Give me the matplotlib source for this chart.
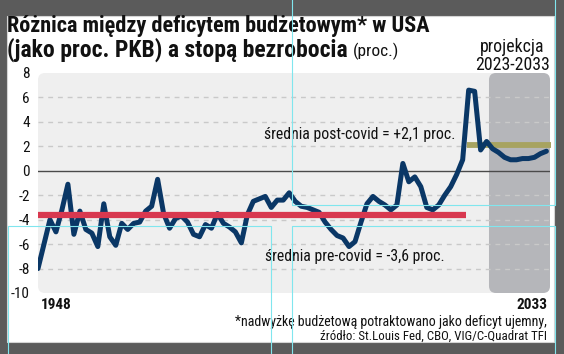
import matplotlib
matplotlib.use('Agg')
import matplotlib.pyplot as plt
from matplotlib.patches import FancyBboxPatch, Rectangle
from matplotlib.lines import Line2D
from matplotlib.transforms import IdentityTransform
from matplotlib import font_manager as fm

names = {f.name for f in fm.fontManager.ttflist}
FONT = next((c for c in ['Roboto Condensed', 'Open Sans Condensed', 'Liberation Sans Narrow', 'Roboto']
             if c in names), 'DejaVu Sans')
plt.rcParams['font.family'] = [FONT, 'DejaVu Sans']

# ---------------- data ----------------
years = list(range(1948, 2034))
values = [
    -8.0, -6.0, -4.0, -5.0, -3.2, -1.1, -5.2, -3.3, -4.8, -5.1,   # 1948-1957
    -6.2, -2.7, -5.4, -6.1, -4.3, -4.8, -4.3, -4.2, -3.3, -2.9,   # 1958-1967
    -0.7, -3.5, -4.7, -3.9, -3.7, -4.2, -5.2, -5.4, -4.4, -4.7,   # 1968-1977
    -3.5, -4.3, -4.6, -5.0, -5.9, -3.6, -2.5, -2.3, -2.1, -3.0,   # 1978-1987
    -2.4, -2.4, -1.8, -2.5, -2.9, -3.0, -3.2, -3.4, -4.2, -4.8,   # 1988-1997
    -5.3, -5.5, -6.2, -5.8, -4.2, -2.7, -2.1, -2.5, -2.8, -3.2,   # 1998-2007
    -2.8, 0.6, -0.9, -0.5, -1.3, -3.0, -3.2, -2.8, -2.0, -1.3,    # 2008-2017
    -0.3, 0.9, 6.6, 6.5, 1.7, 2.4, 1.8, 1.5, 1.1, 0.9,            # 2018-2027
    0.9, 1.0, 1.0, 1.1, 1.4, 1.6,                                 # 2028-2033
]
pre_covid_mean = -3.6
pre_covid_span = [1948, 2019.6]
post_covid_mean = 2.1
post_covid_span = [2019.7, 2033.7]
projection_start = 2023.4
yticks = [8, 6, 4, 2, 0, -2, -4, -6, -8, -10]
ytick_labels = ['8', '6', '4', '2', '0', '-2', '-4', '-6', '-8', '-10']
grid_levels = [6, 4, 2, -2, -4, -6, -8]
xlabel_years = [1948, 2033]

title_1 = 'Różnica między deficytem budżetowym* w USA'
title_2 = '(jako proc. PKB) a stopą bezrobocia'
title_unit = '(proc.)'
proj_label_1 = 'projekcja'
proj_label_2 = '2023-2033'
post_label = 'średnia post-covid = +2,1 proc.'
pre_label = 'średnia pre-covid = -3,6 proc.'
foot_1 = '*nadwyżkę budżetową potraktowano jako deficyt ujemny,'
foot_2 = 'źródło: St.Louis Fed, CBO, VIG/C-Quadrat TFI'

NAVY = '#0a3766'
RED = '#d8384f'
OLIVE = '#a7a360'
TXT = '#111111'

# ---------------- figure ----------------
W, H = 564, 354
fig = plt.figure(figsize=(W / 100, H / 100), dpi=100)
fig.patch.set_facecolor('#5b5b5b')
ID = IdentityTransform()

fig.add_artist(Rectangle((6.5, H - 341.5), 547, 326, transform=ID,
                         facecolor='white', edgecolor='#d4d4d4', lw=0.8, zorder=-3))

AX_L, AX_R, AX_T, AX_B = 38, 550, 73, 293
ax = fig.add_axes([AX_L / W, 1 - AX_B / H, (AX_R - AX_L) / W, (AX_B - AX_T) / H])
ax.set_xlim(1948, 2033.6)
ax.set_ylim(-10, 8)
ax.patch.set_visible(False)
for s in ax.spines.values():
    s.set_visible(False)

# background box and projection shade (rounded)
fig.add_artist(FancyBboxPatch((AX_L, H - AX_B), AX_R - AX_L, AX_B - AX_T,
                              boxstyle='round,pad=0,rounding_size=7', transform=ID,
                              facecolor='#efefef', edgecolor='none', zorder=-2))
px0 = ax.transData.transform((projection_start, 0))[0]
fig.add_artist(FancyBboxPatch((px0, H - AX_B), AX_R - px0, AX_B - AX_T,
                              boxstyle='round,pad=0,rounding_size=7', transform=ID,
                              facecolor='#b5b6ba', edgecolor='none', zorder=-1))

for g in grid_levels:
    ax.axhline(g, color='#c9c9c9', lw=1.0, dashes=(3.5, 3.5), zorder=1)
ax.axhline(0, color='#4a4a4a', lw=1.0, zorder=1.2)

ax.plot(post_covid_span, [post_covid_mean] * 2, color=OLIVE, lw=4.2,
        solid_capstyle='butt', zorder=2, clip_on=False)
ax.plot(years, values, color=NAVY, lw=3.6, solid_joinstyle='round',
        solid_capstyle='round', zorder=3)
ax.plot(pre_covid_span, [pre_covid_mean] * 2, color=RED, lw=4.5,
        solid_capstyle='butt', zorder=4)

ax.set_yticks(yticks)
ax.set_yticklabels(ytick_labels)
ax.tick_params(axis='y', length=0, pad=6, labelsize=11, labelcolor=TXT)
ax.set_xticks([])

for yr, ha, dx in zip(xlabel_years, ['left', 'right'], [3, 1]):
    ax.annotate(str(yr), xy=(yr, 0), xycoords=('data', 'axes fraction'),
                xytext=(dx, -5), textcoords='offset pixels', ha=ha, va='top',
                fontsize=11, fontweight='bold', color=TXT)

ax.text(2001.7, 2.95, post_label, ha='center', va='center', fontsize=11.3, color=TXT, zorder=5)
ax.text(2000.9, -7.0, pre_label, ha='center', va='center', fontsize=11.3, color=TXT, zorder=5)

# ---------------- titles (pixel positions, top-down baselines) ----------------
def ptext(x, y_top, s, **kw):
    return fig.text(x, H - y_top, s, transform=ID, color=TXT, va='baseline', **kw)

t1 = ptext(7, 34, title_1, fontsize=16, fontweight='bold', ha='left')
t2 = ptext(7, 54.5, title_2, fontsize=17, fontweight='bold', ha='left')
renderer = fig.canvas.get_renderer()
bb = t2.get_window_extent(renderer)
t3 = ptext(bb.x1 + 5, 54.5, title_unit, fontsize=12.5, ha='left')
p1 = ptext(512, 53, proj_label_1, fontsize=12.8, ha='center')
p2 = ptext(513, 69, proj_label_2, fontsize=12.8, ha='center')
f1 = ptext(547, 327, foot_1, fontsize=10, ha='right')
f2 = ptext(547, 339, foot_2, fontsize=9.3, ha='right')


def separate(upper, lower, others=()):
    """Nudge two stacked text lines apart just enough that their boxes do not touch."""
    bu = upper.get_window_extent(renderer)
    bl = lower.get_window_extent(renderer)
    ov = bl.y1 - bu.y0 + 0.6
    if ov > 0:
        xu, yu = upper.get_position()
        upper.set_position((xu, yu + ov / 2))
        for t in [lower, *others]:
            x, y = t.get_position()
            t.set_position((x, y - ov / 2))


separate(t1, t2, others=(t3,))
separate(p1, p2)
separate(f1, f2)

# ---------------- layout guide lines (cyan) ----------------
CY = '#80e6ee'
guides = [
    [(291.5, 0), (291.5, 204.5), (554.5, 204.5), (554.5, 0)],
    [(7.5, 354), (7.5, 225.5), (270.5, 225.5), (270.5, 354)],
    [(291.5, 354), (291.5, 225.5), (554.5, 225.5), (554.5, 354)],
]
for seg in guides:
    xs = [p[0] for p in seg]
    ys = [H - p[1] for p in seg]
    fig.add_artist(Line2D(xs, ys, transform=ID, color=CY, lw=0.8, zorder=10))

fig.savefig('out.png', dpi=100, facecolor=fig.get_facecolor())
